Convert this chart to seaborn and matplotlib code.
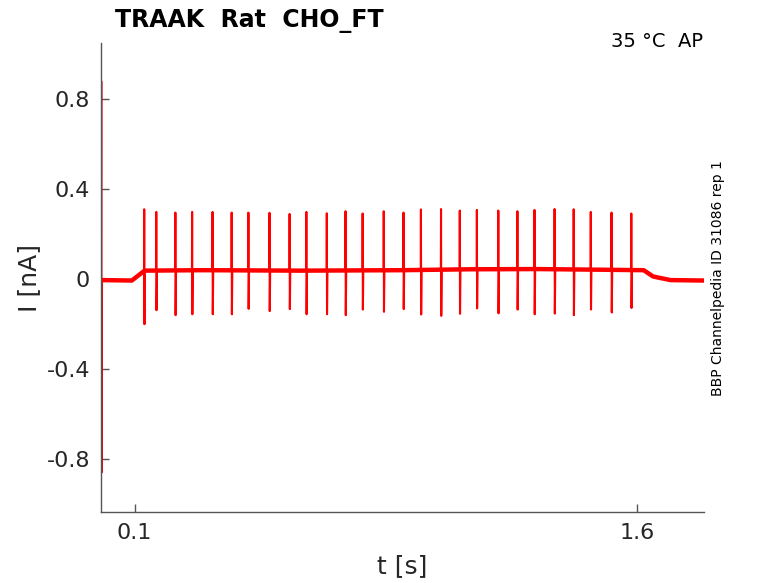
import numpy as np
import pandas as pd
import matplotlib
matplotlib.use("Agg")
import matplotlib.pyplot as plt
import seaborn as sns

# ---- data ----
spike_times = [0.129, 0.165, 0.222, 0.272, 0.333, 0.390, 0.440, 0.503, 0.563,
               0.613, 0.674, 0.730, 0.781, 0.844, 0.903, 0.955, 1.015, 1.071,
               1.122, 1.186, 1.243, 1.294, 1.354, 1.411, 1.462, 1.524, 1.583]
spike_peaks = [0.311, 0.299, 0.296, 0.299, 0.299, 0.296, 0.296, 0.295, 0.290,
               0.299, 0.293, 0.302, 0.292, 0.302, 0.296, 0.310, 0.312, 0.305,
               0.308, 0.305, 0.302, 0.308, 0.312, 0.311, 0.299, 0.296, 0.292]
spike_troughs = [-0.200, -0.138, -0.160, -0.156, -0.156, -0.156, -0.132, -0.142, -0.133,
                 -0.156, -0.156, -0.160, -0.135, -0.145, -0.133, -0.157, -0.163, -0.154,
                 -0.130, -0.152, -0.135, -0.156, -0.153, -0.160, -0.135, -0.148, -0.128]

# baseline (holding / step current) knots
base_t = [0.004, 0.092, 0.130, 0.30, 0.60, 0.90, 1.10, 1.30, 1.50, 1.620, 1.648, 1.700, 1.80]
base_i = [-0.004, -0.006, 0.038, 0.040, 0.038, 0.040, 0.044, 0.045, 0.042, 0.040, 0.012, -0.004, -0.006]

# initial capacitive transient
trans_t = [0.0, 0.0008, 0.0016, 0.0030]
trans_i = [-0.004, 0.880, -0.860, -0.004]

x_ticks = [0.1, 1.6]
x_tick_labels = ["0.1", "1.6"]
y_ticks = [0.8, 0.4, 0.0, -0.4, -0.8]
y_tick_labels = ["0.8", "0.4", "0", "-0.4", "-0.8"]

title = "TRAAK  Rat  CHO_FT"
corner_text = "35 °C  AP"
side_text = "BBP Channelpedia ID 31086 rep 1"

# ---- build trace vertices ----
t_pts = list(trans_t)
i_pts = list(trans_i)
events = list(zip(base_t, base_i))
for st, sp, sr in zip(spike_times, spike_peaks, spike_troughs):
    b = float(np.interp(st, base_t, base_i))
    events.append((st - 0.0005, b))
    events.append((st, sp))
    events.append((st + 0.0007, sr))
    events.append((st + 0.0020, b))
events.sort(key=lambda e: e[0])
for tt, ii in events:
    t_pts.append(tt)
    i_pts.append(ii)

df = pd.DataFrame({"t": t_pts, "I": i_pts})
df_base = pd.DataFrame({"t": base_t, "I": base_i})

# ---- plotting ----
sns.set_theme(style="white")
plt.rcParams["font.family"] = ["DejaVu Sans"]

fig = plt.figure(figsize=(7.78, 5.83), dpi=100)
ax = fig.add_axes([101 / 778, 1 - 512 / 583, (704 - 101) / 778, (512 - 43) / 583])

# thick holding/step trace (noise band)
sns.lineplot(data=df_base, x="t", y="I", ax=ax, color="#ff0000", linewidth=3.2,
             estimator=None, sort=False)
# full trace with spikes
sns.lineplot(data=df, x="t", y="I", ax=ax, color="#ff0000", linewidth=1.5,
             estimator=None, sort=False)

ax.set_xlim(0.0, 1.8)
ax.set_ylim(-1.035, 1.05)
ax.set_xticks(x_ticks)
ax.set_xticklabels(x_tick_labels)
ax.set_yticks(y_ticks)
ax.set_yticklabels(y_tick_labels)
ax.tick_params(bottom=True, left=True, direction="in", length=6, width=1,
               colors="#555555", labelcolor="#262626", labelsize=16, pad=8)
for s in ["top", "right"]:
    ax.spines[s].set_visible(False)
for s in ["left", "bottom"]:
    ax.spines[s].set_color("#555555")
    ax.spines[s].set_linewidth(1.0)

ax.set_xlabel("t [s]", fontsize=18, color="#262626", labelpad=8)
ax.set_ylabel("I [nA]", fontsize=18, color="#262626", labelpad=4)

fig.text(115 / 778, 1 - 27 / 583, title, fontsize=17, fontweight="bold",
         color="black", ha="left", va="baseline")
fig.text(703 / 778, 1 - 47 / 583, corner_text, fontsize=14, color="black",
         ha="right", va="baseline")
fig.text(711 / 778, 1 - 278 / 583, side_text, fontsize=10, color="black",
         rotation=90, ha="left", va="center")

fig.savefig("out.png", dpi=100)
